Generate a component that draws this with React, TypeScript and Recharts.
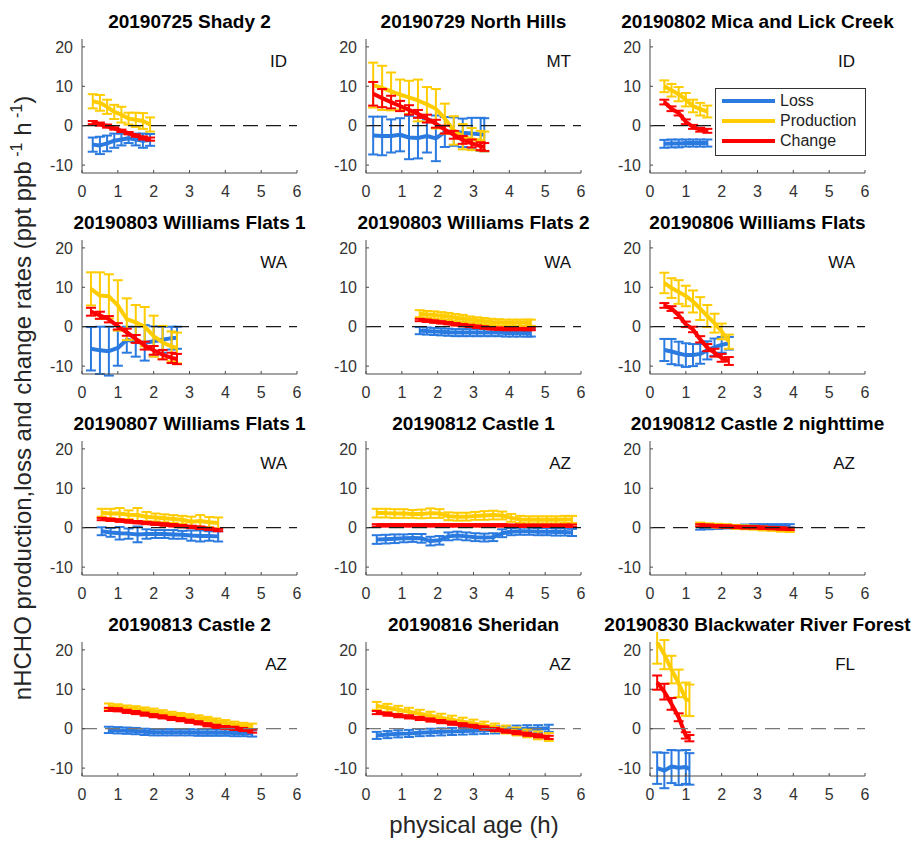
import React from 'react';
import { LineChart, Line, XAxis, YAxis, ErrorBar, ReferenceLine, Legend } from 'recharts';

const FONT = '"Liberation Sans", Arial, Helvetica, sans-serif';
const BLUE = '#2a7ae0';
const GOLD = '#ffcc00';
const RED = '#ff0000';

const titles = [
  '20190725 Shady 2', '20190729 North Hills', '20190802 Mica and Lick Creek',
  '20190803 Williams Flats 1', '20190803 Williams Flats 2', '20190806 Williams Flats',
  '20190807 Williams Flats 1', '20190812 Castle 1', '20190812 Castle 2 nighttime',
  '20190813 Castle 2', '20190816 Sheridan', '20190830 Blackwater River Forest',
];
const states = ['ID', 'MT', 'ID', 'WA', 'WA', 'WA', 'WA', 'AZ', 'AZ', 'AZ', 'AZ', 'FL'];
const seriesNames = ['Loss', 'Production', 'Change'];
const seriesColors = [BLUE, GOLD, RED];

const xTicks = [0, 1, 2, 3, 4, 5, 6];
const yTicks = [-10, 0, 10, 20];

// 20190725 Shady 2
const shadyAge = [0.3, 0.5, 0.7, 0.9, 1.1, 1.3, 1.5, 1.7, 1.9];
const shadyLoss = [-4.8, -5.0, -4.5, -3.8, -3.5, -3.2, -3.5, -3.8, -3.6];
const shadyLossErr = [1.8, 2.2, 2.0, 1.8, 1.5, 1.2, 1.5, 1.8, 1.5];
const shadyProd = [6.2, 5.8, 4.8, 3.5, 2.8, 1.8, 1.5, 1.2, 0.3];
const shadyProdErr = [1.8, 2.0, 1.8, 1.8, 2.0, 1.5, 1.8, 2.0, 1.8];
const shadyChg = [0.8, 0.4, -0.1, -0.7, -1.3, -1.9, -2.5, -3.1, -3.4];
const shadyChgErr = [0.4, 0.4, 0.4, 0.3, 0.3, 0.3, 0.3, 0.4, 0.4];

// 20190729 North Hills
const northAge = [0.2, 0.45, 0.7, 0.95, 1.2, 1.45, 1.7, 1.95, 2.2, 2.45, 2.7, 2.95, 3.2, 3.3];
const northLoss = [-2.5, -2.6, -2.6, -2.3, -3.0, -3.1, -2.6, -3.2, -1.6, -1.5, -1.8, -2.0, -2.2, -2.3];
const northLossErr = [4.8, 4.9, 4.2, 4.2, 5.5, 5.2, 4.2, 5.8, 3.8, 3.6, 3.6, 4.0, 4.2, 4.2];
const northProd = [10.3, 9.6, 8.7, 7.9, 7.2, 6.4, 5.4, 4.3, 1.8, -1.2, -2.8, -3.4, -3.8, -4.0];
const northProdErr = [5.7, 5.6, 4.8, 3.8, 4.2, 5.3, 4.4, 5.0, 3.8, 3.6, 3.2, 2.8, 2.5, 2.5];
const northChg = [8.1, 7.0, 6.0, 5.0, 4.0, 3.0, 1.8, 0.5, -1.0, -2.3, -3.6, -4.5, -5.2, -5.4];
const northChgErr = [3.0, 2.3, 1.6, 1.3, 1.2, 1.0, 1.0, 1.0, 1.0, 1.0, 1.0, 1.0, 1.0, 1.0];

// 20190802 Mica and Lick Creek
const micaAge = [0.4, 0.6, 0.8, 1.0, 1.2, 1.4, 1.6];
const micaLoss = [-4.6, -4.5, -4.5, -4.4, -4.4, -4.4, -4.4];
const micaLossErr = [1.0, 1.0, 1.0, 0.9, 0.9, 0.9, 0.9];
const micaProd = [10.0, 9.0, 8.0, 6.6, 5.0, 4.2, 3.6];
const micaProdErr = [1.5, 1.6, 1.8, 1.7, 1.6, 1.6, 1.5];
const micaChg = [6.0, 4.3, 3.2, 1.0, -0.3, -1.0, -1.3];
const micaChgErr = [0.6, 0.6, 0.6, 0.6, 0.5, 0.5, 0.5];

// 20190803 Williams Flats 1
const wfa03Age = [0.25, 0.5, 0.75, 1.0, 1.25, 1.5, 1.75, 2.0, 2.25, 2.5, 2.65];
const wfa03Loss = [-5.6, -6.0, -6.2, -5.4, -3.3, -3.8, -4.1, -3.7, -3.3, -2.9, -2.8];
const wfa03LossErr = [5.5, 6.0, 6.2, 4.5, 3.3, 3.8, 4.5, 3.8, 3.3, 2.9, 2.8];
const wfa03Prod = [9.6, 7.9, 7.7, 5.4, 1.9, 1.1, 0.0, -2.4, -4.0, -5.0, -5.4];
const wfa03ProdErr = [4.2, 5.9, 5.6, 6.4, 5.3, 4.4, 5.0, 5.2, 4.2, 3.8, 3.9];
const wfa03Chg = [3.8, 2.9, 1.9, 0.1, -1.4, -3.1, -4.8, -6.0, -7.1, -7.9, -8.2];
const wfa03ChgErr = [1.0, 0.9, 0.8, 0.8, 0.9, 1.0, 1.0, 1.1, 1.2, 1.3, 1.3];

// 20190803 Williams Flats 2
const wfb03Age = [1.5, 1.7, 1.9, 2.1, 2.3, 2.5, 2.7, 2.9, 3.1, 3.3, 3.5, 3.7, 3.9, 4.1, 4.3, 4.5, 4.6];
const wfb03Loss = [-1.0, -1.1, -1.2, -1.3, -1.4, -1.5, -1.5, -1.5, -1.5, -1.5, -1.5, -1.5, -1.6, -1.6, -1.6, -1.6, -1.6];
const wfb03LossErr = [0.9, 0.9, 0.9, 0.9, 0.9, 0.9, 0.9, 0.9, 0.9, 0.9, 0.9, 0.9, 0.9, 0.9, 0.9, 0.9, 0.9];
const wfb03Prod = [3.3, 3.1, 3.0, 2.8, 2.6, 2.3, 2.1, 1.8, 1.6, 1.4, 1.2, 1.1, 1.0, 1.0, 1.0, 1.0, 1.0];
const wfb03ProdErr = [0.9, 0.9, 0.9, 0.9, 0.9, 0.9, 0.9, 0.8, 0.8, 0.8, 0.8, 0.8, 0.8, 0.8, 0.8, 0.8, 0.8];
const wfb03Chg = [1.7, 1.5, 1.3, 1.1, 0.9, 0.6, 0.4, 0.2, 0.0, -0.2, -0.4, -0.5, -0.6, -0.6, -0.6, -0.6, -0.6];
const wfb03ChgErr = [0.3, 0.3, 0.3, 0.3, 0.3, 0.3, 0.3, 0.3, 0.3, 0.3, 0.3, 0.3, 0.3, 0.3, 0.3, 0.3, 0.3];

// 20190806 Williams Flats
const wf06Age = [0.4, 0.6, 0.8, 1.0, 1.2, 1.4, 1.6, 1.8, 2.0, 2.2];
const wf06Loss = [-5.9, -6.3, -6.8, -7.2, -7.2, -6.9, -6.0, -5.2, -4.6, -4.2];
const wf06LossErr = [2.8, 3.2, 3.0, 3.0, 2.8, 2.5, 2.3, 2.2, 2.0, 1.6];
const wf06Prod = [11.1, 9.8, 8.8, 7.8, 6.4, 4.6, 2.7, 0.9, -1.2, -3.8];
const wf06ProdErr = [2.6, 2.5, 3.0, 2.6, 2.8, 2.9, 2.8, 2.4, 2.0, 1.8];
const wf06Chg = [5.4, 4.6, 2.9, 0.6, -0.7, -3.2, -5.3, -6.6, -7.9, -8.7];
const wf06ChgErr = [0.6, 0.6, 0.7, 0.7, 0.7, 0.8, 0.9, 1.0, 1.0, 1.0];

// 20190807 Williams Flats 1
const wf07Age = [0.55, 0.8, 1.05, 1.3, 1.55, 1.8, 2.05, 2.3, 2.55, 2.8, 3.05, 3.3, 3.55, 3.8];
const wf07Loss = [-0.9, -1.2, -1.4, -1.5, -1.7, -1.6, -1.6, -1.6, -1.7, -1.8, -2.0, -2.1, -2.1, -2.2];
const wf07LossErr = [1.0, 1.1, 1.6, 1.3, 2.0, 1.2, 1.0, 1.0, 1.1, 1.0, 1.3, 1.4, 1.2, 1.3];
const wf07Prod = [3.8, 3.6, 3.6, 3.3, 3.2, 2.8, 2.6, 2.4, 2.2, 2.0, 1.5, 1.7, 1.4, 1.2];
const wf07ProdErr = [1.0, 1.2, 1.4, 1.1, 1.8, 1.2, 1.0, 1.0, 1.0, 1.0, 1.3, 1.5, 1.3, 1.4];
const wf07Chg = [2.2, 2.0, 1.8, 1.6, 1.4, 1.2, 1.0, 0.8, 0.6, 0.4, 0.2, 0.0, -0.3, -0.6];
const wf07ChgErr = [0.3, 0.3, 0.3, 0.3, 0.3, 0.3, 0.3, 0.3, 0.3, 0.3, 0.3, 0.3, 0.3, 0.3];

// 20190812 Castle 1
const castle1Age = [0.3, 0.55, 0.8, 1.05, 1.3, 1.55, 1.8, 2.05, 2.3, 2.55, 2.8, 3.05, 3.3, 3.55, 3.8, 4.05, 4.3, 4.55, 4.8, 5.05, 5.3, 5.55, 5.75];
const castle1Loss = [-3.0, -2.9, -2.8, -2.7, -2.6, -2.7, -3.4, -3.2, -2.2, -2.0, -2.2, -2.4, -2.5, -2.4, -1.4, -1.0, -0.9, -0.9, -1.0, -1.0, -1.1, -1.1, -1.2];
const castle1LossErr = [1.1, 1.1, 1.1, 1.0, 1.0, 1.1, 1.1, 1.1, 1.0, 1.0, 1.0, 1.0, 1.0, 1.0, 1.0, 0.9, 0.9, 0.9, 0.9, 0.9, 0.9, 0.9, 0.9];
const castle1Prod = [3.7, 3.7, 3.6, 3.6, 3.5, 3.5, 3.7, 3.6, 2.9, 2.8, 2.8, 3.0, 3.1, 3.2, 3.1, 2.5, 2.1, 2.0, 2.0, 2.0, 2.0, 2.1, 2.1];
const castle1ProdErr = [1.1, 1.1, 1.1, 1.1, 1.0, 1.1, 1.2, 1.1, 1.0, 1.0, 1.0, 1.0, 1.1, 1.1, 1.0, 1.0, 0.9, 0.9, 0.9, 0.9, 0.9, 0.9, 0.9];
const castle1Chg = [0.6, 0.6, 0.6, 0.6, 0.6, 0.6, 0.6, 0.6, 0.6, 0.6, 0.6, 0.6, 0.6, 0.6, 0.6, 0.5, 0.5, 0.5, 0.5, 0.5, 0.5, 0.5, 0.5];
const castle1ChgErr = [0.3, 0.3, 0.3, 0.3, 0.3, 0.3, 0.3, 0.3, 0.3, 0.3, 0.3, 0.3, 0.3, 0.3, 0.3, 0.3, 0.3, 0.3, 0.3, 0.3, 0.3, 0.3, 0.3];

// 20190812 Castle 2 nighttime
const nightAge = [1.4, 1.65, 1.9, 2.15, 2.4, 2.65, 2.9, 3.15, 3.4, 3.65, 3.9];
const nightLoss = [-0.1, 0.0, 0.1, 0.2, 0.3, 0.4, 0.5, 0.5, 0.5, 0.5, 0.5];
const nightLossErr = [0.4, 0.4, 0.4, 0.4, 0.4, 0.4, 0.4, 0.4, 0.4, 0.4, 0.4];
const nightProd = [0.8, 0.6, 0.5, 0.4, 0.2, 0.1, 0.0, -0.2, -0.3, -0.5, -0.6];
const nightProdErr = [0.5, 0.5, 0.5, 0.5, 0.5, 0.5, 0.5, 0.5, 0.5, 0.5, 0.5];
const nightChg = [0.6, 0.5, 0.4, 0.3, 0.2, 0.1, 0.1, 0.0, -0.1, -0.2, -0.3];
const nightChgErr = [0.3, 0.3, 0.3, 0.3, 0.3, 0.3, 0.3, 0.3, 0.3, 0.3, 0.3];

// 20190813 Castle 2
const castle2Age = [0.75, 1.0, 1.25, 1.5, 1.75, 2.0, 2.25, 2.5, 2.75, 3.0, 3.25, 3.5, 3.75, 4.0, 4.25, 4.5, 4.75];
const castle2Loss = [-0.3, -0.4, -0.5, -0.6, -0.8, -0.9, -0.9, -0.9, -0.9, -0.9, -1.0, -1.0, -1.0, -1.0, -1.1, -1.1, -1.2];
const castle2LossErr = [0.8, 0.8, 0.8, 0.8, 0.8, 0.8, 0.8, 0.8, 0.8, 0.8, 0.8, 0.8, 0.8, 0.8, 0.8, 0.8, 0.8];
const castle2Prod = [5.7, 5.5, 5.2, 5.0, 4.7, 4.4, 4.0, 3.6, 3.3, 3.0, 2.7, 2.3, 1.9, 1.5, 1.1, 0.8, 0.6];
const castle2ProdErr = [0.7, 0.7, 0.7, 0.7, 0.7, 0.7, 0.7, 0.7, 0.7, 0.7, 0.7, 0.7, 0.7, 0.7, 0.7, 0.7, 0.7];
const castle2Chg = [4.9, 4.8, 4.4, 4.1, 3.7, 3.3, 3.0, 2.6, 2.3, 1.9, 1.5, 1.0, 0.6, 0.3, 0.1, -0.2, -0.6];
const castle2ChgErr = [0.4, 0.4, 0.4, 0.4, 0.4, 0.4, 0.4, 0.4, 0.4, 0.4, 0.4, 0.4, 0.4, 0.4, 0.4, 0.4, 0.4];

// 20190816 Sheridan
const sheridanAge = [0.3, 0.6, 0.9, 1.2, 1.5, 1.8, 2.1, 2.4, 2.7, 3.0, 3.3, 3.6, 3.9, 4.2, 4.5, 4.8, 5.1];
const sheridanLoss = [-1.7, -1.5, -1.3, -1.2, -1.0, -0.9, -0.8, -0.7, -0.6, -0.5, -0.4, -0.3, -0.2, -0.1, 0.0, 0.0, 0.1];
const sheridanLossErr = [0.9, 0.9, 0.9, 0.9, 0.9, 0.9, 0.9, 0.9, 0.9, 0.9, 0.9, 0.9, 0.9, 0.9, 0.9, 0.9, 0.9];
const sheridanProd = [5.8, 5.3, 4.8, 4.3, 3.8, 3.3, 2.8, 2.3, 1.8, 1.3, 0.8, 0.3, -0.2, -0.7, -1.2, -1.7, -2.1];
const sheridanProdErr = [1.0, 1.0, 1.0, 1.0, 1.0, 1.0, 1.0, 1.0, 1.0, 1.0, 1.0, 1.0, 1.0, 1.0, 1.0, 1.0, 1.0];
const sheridanChg = [4.1, 3.7, 3.3, 3.0, 2.6, 2.2, 1.8, 1.4, 1.0, 0.6, 0.2, -0.2, -0.6, -1.0, -1.4, -1.8, -2.2];
const sheridanChgErr = [0.4, 0.4, 0.4, 0.4, 0.4, 0.4, 0.4, 0.4, 0.4, 0.4, 0.4, 0.4, 0.4, 0.4, 0.4, 0.4, 0.4];

// 20190830 Blackwater River Forest
const blackAge = [0.2, 0.4, 0.6, 0.8, 1.0, 1.1];
const blackLoss = [-10.0, -10.6, -9.6, -9.9, -9.7, -10.2];
const blackLossErr = [4.0, 4.5, 4.2, 4.4, 4.3, 4.0];
const blackProd = [22.0, 18.8, 15.0, 11.5, 7.5, 7.2];
const blackProdErr = [5.5, 3.7, 3.5, 3.5, 4.2, 4.0];
const blackChg = [11.7, 9.4, 6.3, 2.9, -1.7, -2.4];
const blackChgErr = [1.8, 2.0, 1.5, 1.0, 0.8, 0.8];

const panelSeries = [
  [shadyAge, shadyLoss, shadyLossErr, shadyProd, shadyProdErr, shadyChg, shadyChgErr],
  [northAge, northLoss, northLossErr, northProd, northProdErr, northChg, northChgErr],
  [micaAge, micaLoss, micaLossErr, micaProd, micaProdErr, micaChg, micaChgErr],
  [wfa03Age, wfa03Loss, wfa03LossErr, wfa03Prod, wfa03ProdErr, wfa03Chg, wfa03ChgErr],
  [wfb03Age, wfb03Loss, wfb03LossErr, wfb03Prod, wfb03ProdErr, wfb03Chg, wfb03ChgErr],
  [wf06Age, wf06Loss, wf06LossErr, wf06Prod, wf06ProdErr, wf06Chg, wf06ChgErr],
  [wf07Age, wf07Loss, wf07LossErr, wf07Prod, wf07ProdErr, wf07Chg, wf07ChgErr],
  [castle1Age, castle1Loss, castle1LossErr, castle1Prod, castle1ProdErr, castle1Chg, castle1ChgErr],
  [nightAge, nightLoss, nightLossErr, nightProd, nightProdErr, nightChg, nightChgErr],
  [castle2Age, castle2Loss, castle2LossErr, castle2Prod, castle2ProdErr, castle2Chg, castle2ChgErr],
  [sheridanAge, sheridanLoss, sheridanLossErr, sheridanProd, sheridanProdErr, sheridanChg, sheridanChgErr],
  [blackAge, blackLoss, blackLossErr, blackProd, blackProdErr, blackChg, blackChgErr],
];

const toRows = ([age, loss, lossErr, prod, prodErr, chg, chgErr]: number[][]) =>
  age.map((a, i) => ({
    age: a,
    loss: loss[i], lossErr: lossErr[i],
    prod: prod[i], prodErr: prodErr[i],
    chg: chg[i], chgErr: chgErr[i],
  }));

const COL_X = [82, 366, 650];
const ROW_Y = [39, 240, 441, 642];
const PLOT_W = 215;
const PLOT_H = 134;
const AXIS_COLOR = '#4a4a4a';
const CAP = 5; // ErrorBar width is half the cap length

// legend keeps the plotting order (Loss, Production, Change)
const LegendBox = () => (
  <div style={{ width: 149, height: 64, border: '1px solid #333', background: '#fff', fontFamily: FONT, fontSize: 16, color: '#222', paddingTop: 2, boxSizing: 'content-box' }}>
    {seriesNames.map((name, i) => (
      <div key={name} style={{ display: 'flex', alignItems: 'center', height: 20 }}>
        <svg width={58} height={10} style={{ marginLeft: 6 }}>
          <line x1={0} x2={53} y1={5} y2={5} stroke={seriesColors[i]} strokeWidth={4} />
        </svg>
        <span>{name}</span>
      </div>
    ))}
  </div>
);

const Panel = ({ index }: { index: number }) => {
  const col = index % 3;
  const row = Math.floor(index / 3);
  const left = COL_X[col];
  const top = ROW_Y[row];
  const rows = toRows(panelSeries[index]);
  const tickStyle = { fill: '#333', fontSize: 16, fontFamily: FONT };
  return (
    <>
      <div style={{ position: 'absolute', left: left + PLOT_W / 2, top: top - 27, transform: 'translateX(-50%)', whiteSpace: 'nowrap', fontFamily: FONT, fontWeight: 'bold', fontSize: 19, lineHeight: '20px', color: '#000' }}>
        {titles[index]}
      </div>
      <div style={{ position: 'absolute', left: left - 40, top: top - 10 }}>
        <LineChart width={40 + PLOT_W + 10} height={10 + PLOT_H + 30} data={rows} margin={{ top: 10, right: 10, bottom: 0, left: 0 }}>
          <XAxis dataKey="age" type="number" domain={[0, 6]} ticks={xTicks} interval={0} allowDataOverflow height={30}
            stroke={AXIS_COLOR} tickSize={-3} tickMargin={16} tick={tickStyle} />
          <YAxis type="number" domain={[-12, 22]} ticks={yTicks} interval={0} allowDataOverflow width={40}
            stroke={AXIS_COLOR} tickSize={-3} tickMargin={12} tick={tickStyle} />
          <Line dataKey="loss" name="Loss" stroke={BLUE} strokeWidth={4} dot={false} isAnimationActive={false} strokeLinejoin="round">
            <ErrorBar dataKey="lossErr" direction="y" width={CAP} strokeWidth={2} stroke={BLUE} />
          </Line>
          <Line dataKey="prod" name="Production" stroke={GOLD} strokeWidth={4} dot={false} isAnimationActive={false} strokeLinejoin="round">
            <ErrorBar dataKey="prodErr" direction="y" width={CAP} strokeWidth={2} stroke={GOLD} />
          </Line>
          <Line dataKey="chg" name="Change" stroke={RED} strokeWidth={4} dot={false} isAnimationActive={false} strokeLinejoin="round">
            <ErrorBar dataKey="chgErr" direction="y" width={CAP} strokeWidth={2} stroke={RED} />
          </Line>
          <ReferenceLine y={0} stroke={row === 3 ? '#777' : '#1a1a1a'} strokeDasharray="15 8" strokeWidth={1.2} />
          {index === 2 && (
            <Legend layout="vertical" align="center" verticalAlign="middle" content={<LegendBox />}
              wrapperStyle={{ left: 105, top: 59, width: 151, height: 66 }} />
          )}
        </LineChart>
      </div>
      <div style={{ position: 'absolute', left: left + 205, top: top + 13, transform: 'translateX(-100%)', fontFamily: FONT, fontSize: 17, lineHeight: '20px', color: '#111' }}>
        {states[index]}
      </div>
    </>
  );
};

export default function App() {
  return (
    <div style={{ position: 'absolute', left: 0, top: 0, width: 914, height: 842, background: '#fff', fontFamily: FONT }}>
      {titles.map((_, i) => <Panel key={i} index={i} />)}
      <div style={{ position: 'absolute', left: 22, top: 398, transform: 'translate(-50%, -50%) rotate(-90deg)', whiteSpace: 'nowrap', fontSize: 24, color: '#262626' }}>
        nHCHO production,loss and change rates (ppt ppb<sup style={{ fontSize: 16 }}> -1</sup> h<sup style={{ fontSize: 16 }}> -1</sup>)
      </div>
      <div style={{ position: 'absolute', left: 474, top: 811, transform: 'translateX(-50%)', whiteSpace: 'nowrap', fontSize: 24, lineHeight: '28px', color: '#262626' }}>
        physical age (h)
      </div>
    </div>
  );
}
